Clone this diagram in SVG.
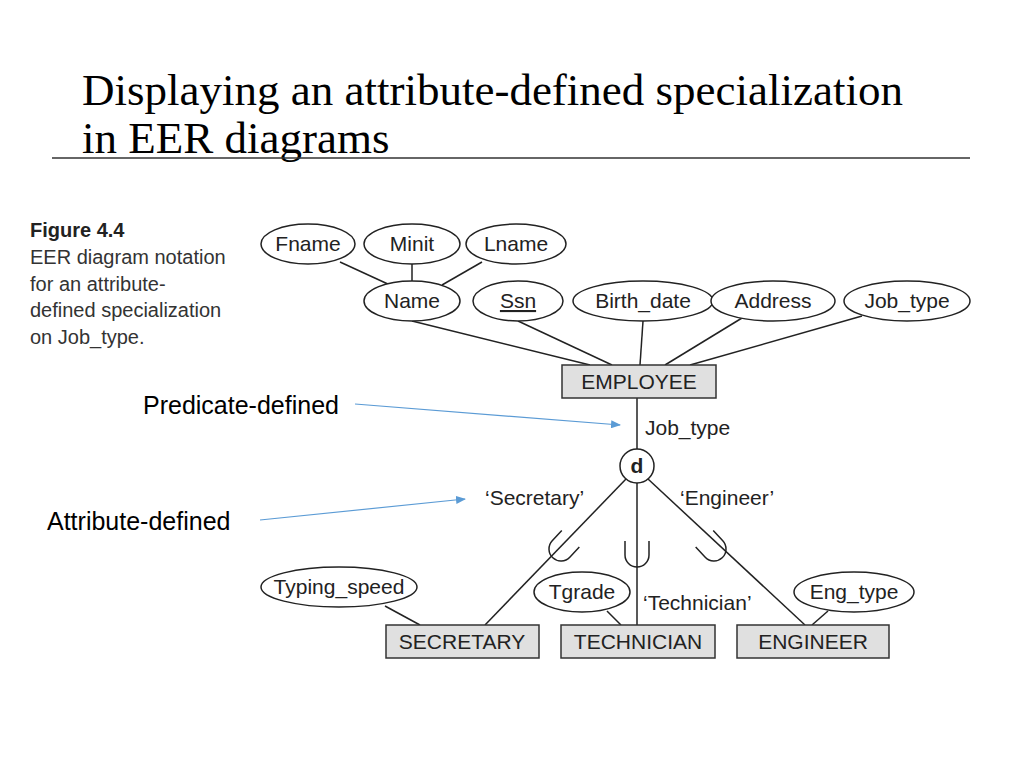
<svg xmlns="http://www.w3.org/2000/svg" width="1024" height="768" viewBox="0 0 1024 768">
<defs>
<style>
.t{font-family:"Liberation Serif",serif;font-size:45px;fill:#000}
.c{font-family:"Liberation Sans",Arial,sans-serif;font-size:20px;fill:#333}
.n{font-family:"Liberation Sans",Arial,sans-serif;font-size:21px;fill:#222;text-anchor:middle}
.l{font-family:"Liberation Sans",Arial,sans-serif;font-size:21px;fill:#222}
.a{font-family:"Liberation Sans",Arial,sans-serif;font-size:25px;fill:#000}
ellipse{fill:#fff;stroke:#222;stroke-width:1.5}
rect.e{fill:#e0e0e0;stroke:#333;stroke-width:1.5}
line,path{stroke:#222;stroke-width:1.5;fill:none}
.bl{stroke:#5b9bd5;stroke-width:1.2}
</style>
<marker id="ar" markerWidth="10" markerHeight="8" refX="9" refY="4" orient="auto" markerUnits="userSpaceOnUse"><path d="M0,0 L10,4 L0,8 Z" style="fill:#5b9bd5;stroke:none"/></marker>
<path id="u" d="M-12,-14 V0 A12,12 0 0 0 12,0 V-14"/>
</defs>
<rect width="1024" height="768" fill="#fff"/>
<text class="t" x="82" y="105">Displaying an attribute-defined specialization</text>
<text class="t" x="82" y="153">in EER diagrams</text>
<line x1="52" y1="158" x2="970" y2="158" style="stroke:#333;stroke-width:1.5"/>
<text class="c" x="30" y="237" style="font-weight:bold;fill:#222">Figure 4.4</text>
<text class="c" x="30" y="264">EER diagram notation</text>
<text class="c" x="30" y="291">for an attribute-</text>
<text class="c" x="30" y="317">defined specialization</text>
<text class="c" x="30" y="344">on Job_type.</text>
<g id="connectors">
<line x1="340" y1="262" x2="390" y2="285"/>
<line x1="412" y1="264" x2="412" y2="281"/>
<line x1="482" y1="262" x2="442" y2="285"/>
<line x1="412" y1="321" x2="590" y2="365"/>
<line x1="518" y1="321" x2="612" y2="365"/>
<line x1="643" y1="321" x2="640" y2="365"/>
<line x1="742" y1="318" x2="665" y2="365"/>
<line x1="862" y1="316" x2="690" y2="365"/>
<line x1="637" y1="398" x2="637" y2="449"/>
<line x1="626" y1="479" x2="485" y2="625"/>
<line x1="637" y1="483" x2="637" y2="625"/>
<line x1="648" y1="479" x2="805" y2="625"/>
<line x1="385" y1="606" x2="420" y2="625"/>
<line x1="607" y1="611" x2="621" y2="625"/>
<line x1="828" y1="611" x2="812" y2="625"/>
<use href="#u" transform="translate(561,549) rotate(43)"/>
<use href="#u" transform="translate(637,555)"/>
<use href="#u" transform="translate(714,549) rotate(-43)"/>
<line class="bl" x1="355" y1="404" x2="620" y2="425" marker-end="url(#ar)"/>
<line class="bl" x1="260" y1="520" x2="465" y2="499" marker-end="url(#ar)"/>
</g>
<g id="fname"><ellipse cx="308" cy="244" rx="47" ry="20"/><text class="n" x="308" y="251">Fname</text></g>
<g id="minit"><ellipse cx="412" cy="244" rx="48" ry="20"/><text class="n" x="412" y="251">Minit</text></g>
<g id="lname"><ellipse cx="516" cy="244" rx="50" ry="20"/><text class="n" x="516" y="251">Lname</text></g>
<g id="name"><ellipse cx="412" cy="301" rx="48" ry="20"/><text class="n" x="412" y="308">Name</text></g>
<g id="ssn"><ellipse cx="518" cy="301" rx="45" ry="20"/><text class="n" x="518" y="308" style="text-decoration:underline">Ssn</text></g>
<g id="birth"><ellipse cx="643" cy="301" rx="70" ry="20"/><text class="n" x="643" y="308">Birth_date</text></g>
<g id="address"><ellipse cx="773" cy="301" rx="62" ry="20"/><text class="n" x="773" y="308">Address</text></g>
<g id="jobtype"><ellipse cx="907" cy="301" rx="63" ry="20"/><text class="n" x="907" y="308">Job_type</text></g>
<g id="employee"><rect class="e" x="562" y="365" width="154" height="33"/><text class="n" x="639" y="389">EMPLOYEE</text></g>
<text class="l" x="645" y="435">Job_type</text>
<g id="d"><circle cx="637" cy="466" r="17" style="fill:#fff;stroke:#222;stroke-width:1.5"/><text class="n" x="637" y="473" style="font-weight:bold">d</text></g>
<text class="l" x="485" y="505">‘Secretary’</text>
<text class="l" x="680" y="505">‘Engineer’</text>
<text class="l" x="643" y="610">‘Technician’</text>
<g id="typing"><ellipse cx="339" cy="587" rx="78" ry="20"/><text class="n" x="339" y="594">Typing_speed</text></g>
<g id="tgrade"><ellipse cx="582" cy="592" rx="48" ry="20"/><text class="n" x="582" y="599">Tgrade</text></g>
<g id="engtype"><ellipse cx="854" cy="592" rx="60" ry="20"/><text class="n" x="854" y="599">Eng_type</text></g>
<g id="secretary"><rect class="e" x="386" y="625" width="153" height="33"/><text class="n" x="462" y="649">SECRETARY</text></g>
<g id="technician"><rect class="e" x="561" y="625" width="154" height="33"/><text class="n" x="638" y="649">TECHNICIAN</text></g>
<g id="engineer"><rect class="e" x="737" y="625" width="152" height="33"/><text class="n" x="813" y="649">ENGINEER</text></g>
<text class="a" x="143" y="414">Predicate-defined</text>
<text class="a" x="47" y="530">Attribute-defined</text>
</svg>
